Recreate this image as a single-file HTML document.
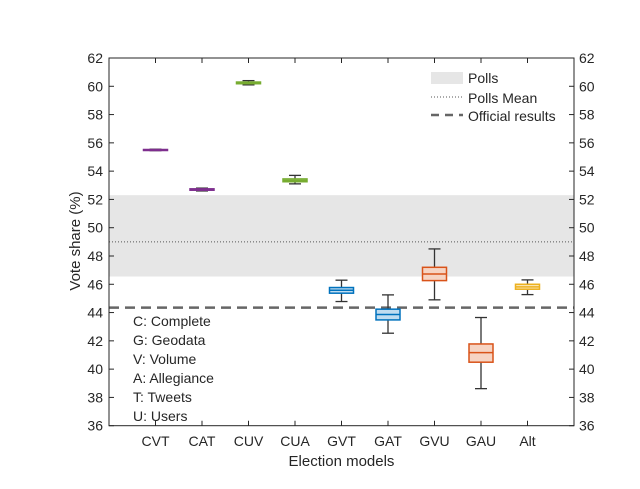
<!DOCTYPE html>
<html><head><meta charset="utf-8"><style>
body{margin:0;background:#fff}
svg{display:block;font-family:"Liberation Sans",sans-serif}
</style></head><body>
<svg id="chart" width="640" height="489" viewBox="0 0 640 489">
<rect x="0" y="0" width="640" height="489" fill="#fff"/>
<g id="plot"></g>
</svg>
<script>
const categories=["CVT","CAT","CUV","CUA","GVT","GAT","GVU","GAU","Alt"];
const whiskerLow=[55.45,52.6,60.1,53.1,44.78,42.54,44.9,38.62,45.27];
const q1=[55.47,52.65,60.18,53.25,45.37,43.48,46.26,40.49,45.65];
const medians=[55.5,52.7,60.25,53.35,45.58,43.86,46.73,41.17,45.82];
const q3=[55.53,52.75,60.3,53.45,45.77,44.24,47.2,41.78,46.0];
const whiskerHigh=[55.55,52.8,60.4,53.7,46.29,45.25,48.5,43.65,46.31];
const colors=["#7E2F8E","#7E2F8E","#77AC30","#77AC30","#0072BD","#0072BD","#D95319","#D95319","#EDB120"];
const fills=["#d8c0dd","#d8c0dd","#d6e6c0","#d6e6c0","#bfdcf0","#bfdcf0","#f6d4c3","#f6d4c3","#fae6b5"];
const yTicks=[36,38,40,42,44,46,48,50,52,54,56,58,60,62];
const pollsLow=46.55, pollsHigh=52.3, pollsMean=49.0, official=44.35;
const notes=["C: Complete","G: Geodata","V: Volume","A: Allegiance","T: Tweets","U: Users"];

const L=109,R=574,T=58,B=425.7;
const X=i=>L+(R-L)*(i+1)/10;
const Y=v=>B-(v-36)/26*(B-T);
const NS="http://www.w3.org/2000/svg";
const g=document.getElementById('plot');
function el(tag,attrs,parent){const e=document.createElementNS(NS,tag);for(const k in attrs)e.setAttribute(k,attrs[k]);(parent||g).appendChild(e);return e;}
function txt(s,attrs){const e=el('text',attrs);e.textContent=s;return e;}

let e;
e=el('rect',{x:L,y:Y(pollsHigh),width:R-L,height:Y(pollsLow)-Y(pollsHigh),fill:"#e6e6e6"});

e=el('line',{x1:L,x2:R,y1:Y(pollsMean),y2:Y(pollsMean),stroke:"#555","stroke-width":1,"stroke-dasharray":"1 2"});

e=el('line',{x1:L,x2:R,y1:Y(official),y2:Y(official),stroke:"#666","stroke-width":2.5,"stroke-dasharray":"10 6"});


// axes frame
e=el('rect',{x:L,y:T,width:R-L,height:B-T,fill:"none",stroke:"#262626","stroke-width":1});


yTicks.forEach(v=>{
  const y=Y(v);
  el('line',{x1:L,x2:L+5,y1:y,y2:y,stroke:"#262626"});
  el('line',{x1:R-5,x2:R,y1:y,y2:y,stroke:"#262626"});
  e=txt(String(v),{x:L-6,y:y+5,"text-anchor":"end","font-size":14,fill:"#262626"});
  
  e=txt(String(v),{x:R+5,y:y+5,"text-anchor":"start","font-size":14,fill:"#262626"});
  
});

categories.forEach((c,i)=>{
  const x=X(i),w=12;
  el('line',{x1:x,x2:x,y1:B,y2:B-5,stroke:"#262626"});
  el('line',{x1:x,x2:x,y1:T,y2:T+5,stroke:"#262626"});
  e=txt(c,{x:x,y:446,"text-anchor":"middle","font-size":14,fill:"#262626"});
  
  const bx=el('g',{});
  
  
  el('line',{x1:x,x2:x,y1:Y(whiskerHigh[i]),y2:Y(q3[i]),stroke:"#333","stroke-width":1.3},bx);
  el('line',{x1:x,x2:x,y1:Y(q1[i]),y2:Y(whiskerLow[i]),stroke:"#333","stroke-width":1.3},bx);
  el('line',{x1:x-6,x2:x+6,y1:Y(whiskerHigh[i]),y2:Y(whiskerHigh[i]),stroke:"#333","stroke-width":1.3},bx);
  el('line',{x1:x-6,x2:x+6,y1:Y(whiskerLow[i]),y2:Y(whiskerLow[i]),stroke:"#333","stroke-width":1.3},bx);
  el('rect',{x:x-w,y:Y(q3[i]),width:2*w,height:Math.max(1,Y(q1[i])-Y(q3[i])),fill:fills[i],stroke:colors[i],"stroke-width":1.5},bx);
  el('line',{x1:x-w,x2:x+w,y1:Y(medians[i]),y2:Y(medians[i]),stroke:colors[i],"stroke-width":1.5},bx);
});

// legend
const lg=el('g',{});

el('rect',{x:431,y:72,width:32,height:12,fill:"#e6e6e6"},lg);
el('line',{x1:431,x2:463,y1:97,y2:97,stroke:"#555","stroke-dasharray":"1 2"},lg);
el('line',{x1:431,x2:463,y1:115,y2:115,stroke:"#666","stroke-width":2.5,"stroke-dasharray":"8 6"},lg);
[["Polls",83],["Polls Mean",103],["Official results",121]].forEach(([s,y])=>{
  const t=el('text',{x:468,y:y,"font-size":14,fill:"#262626"},lg);t.textContent=s;
});

notes.forEach((s,i)=>{
  e=txt(s,{x:133,y:326+i*19,"font-size":14,fill:"#262626"});
  
});

e=txt("Election models",{x:(L+R)/2,y:466,"text-anchor":"middle","font-size":15,fill:"#262626"});

e=txt("Vote share (%)",{x:0,y:0,transform:"translate(80,241) rotate(-90)","text-anchor":"middle","font-size":15,fill:"#262626"});

</script>
</body></html>
